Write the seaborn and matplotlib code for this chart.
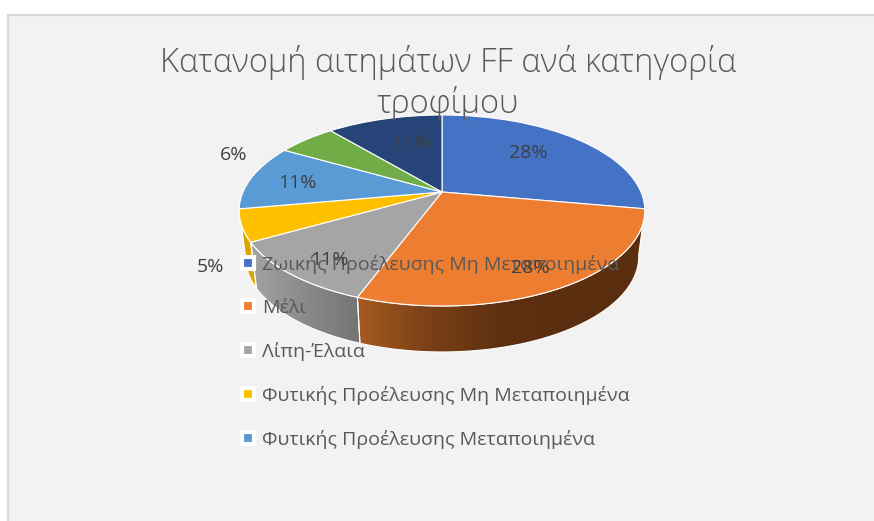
import numpy as np
import matplotlib
matplotlib.use('Agg')
import matplotlib.pyplot as plt
import seaborn as sns
from matplotlib.lines import Line2D
from matplotlib.patches import Polygon, Rectangle
from matplotlib.transforms import Transform

# chart values
values = [27.8, 27.8, 11.1, 5.4, 11.1, 5.6, 11.1]
legend_labels = ['Ζωικής Προέλευσης Μη Μεταποιημένα', 'Μέλι', 'Λίπη-Έλαια',
                 'Φυτικής Προέλευσης Μη Μεταποιημένα', 'Φυτικής Προέλευσης Μεταποιημένα']
title_text = 'Κατανομή αιτημάτων FF ανά κατηγορία\nτροφίμου'

# styling
slice_colors = ['#4472c4', '#ed7d31', '#a5a5a5', '#ffc000', '#5b9bd5', '#70ad47', '#264478']
side_colors = {1: ['#a65a20', '#7a4016', '#5e3011', '#5c2e10', '#5c2e10'],
               2: ['#a3a3a3', '#8a8a8a', '#747474'],
               3: ['#dba500', '#dba500']}
label_pos = [(528, 153), (530, 268), (329, 260), (210, 267), (297, 183), (234, 155), (411, 143)]

sns.set_theme(style='white')
plt.rcParams['font.family'] = ['Open Sans', 'DejaVu Sans']

W, H = 874, 521
CX, CY = 442, 192   # apex of the pie
SX, SY, K = 199, 91.9, 0.1937
DEPTH = 46
TEXT = '#595959'


def project(x, y, shrink=1.0, drop=0.0):
    w = 1 + K * y
    return CX + shrink * SX * x / w, CY - SY * y / w + drop


class Tilt(Transform):
    # tilted view of the unit circle, result is in pixels
    input_dims = 2
    output_dims = 2
    has_inverse = False

    def transform_non_affine(self, values):
        px, py = project(values[:, 0], values[:, 1])
        return np.column_stack([px, py])


fig = plt.figure(figsize=(W / 100, H / 100), dpi=100, facecolor='white')
ax = fig.add_axes([0, 0, 1, 1])

wedges, _ = ax.pie(values, colors=slice_colors, startangle=90, counterclock=False,
                   wedgeprops={'edgecolor': 'white', 'linewidth': 0.8})
ax.set_aspect('auto')
ax.set_axis_on()
ax.axis('off')

ax.add_patch(Rectangle((7.5, 14.5), W, H, facecolor='#f2f2f2', edgecolor='#d9d9d9',
                       linewidth=1.6, zorder=0))

tilt = Tilt() + ax.transData
for wedge in wedges:
    wedge.set_transform(tilt)
    wedge.set_zorder(3)

# side wall, only the slices facing the viewer
edges = np.cumsum([0] + values) / sum(values) * 2 * np.pi
for i, cols in side_colors.items():
    t = np.linspace(edges[i], edges[i + 1], 60)
    x, y = np.sin(t), np.cos(t)
    tx, ty = project(x, y)
    bx, by = project(x, y, shrink=0.97, drop=DEPTH)
    pts = np.column_stack([np.r_[tx, bx[::-1]], np.r_[ty, by[::-1]]])
    poly = Polygon(pts, closed=True, facecolor='none', edgecolor='white', linewidth=0.8, zorder=2)
    ax.add_patch(poly)
    cmap = sns.blend_palette(cols, as_cmap=True)
    left, right = pts[:, 0].min(), pts[:, 0].max()
    if i == 1:
        grad = np.linspace(0, 1, 256).reshape(1, -1)
    else:
        grad = np.linspace(0, 1, 256).reshape(1, -1)
    img = ax.imshow(grad, cmap=cmap, aspect='auto', zorder=1.5,
                    extent=(left, right, pts[:, 1].max(), pts[:, 1].min()))
    img.set_clip_path(poly)

for v, (lx, ly) in zip(values, label_pos):
    ax.text(lx, ly, f'{v:.0f}%', ha='center', va='center', fontsize=14, color='#404040', zorder=6)

ax.text(448, 83, title_text, ha='center', va='center', fontsize=23.5, color=TEXT,
        linespacing=1.25, fontweight='light', zorder=7)

handles = [Line2D([], [], linestyle='none', marker='s', markersize=9, markerfacecolor=c,
                  markeredgecolor='white', markeredgewidth=3) for c in slice_colors[:5]]
leg = ax.legend(handles, legend_labels, loc='upper left', bbox_to_anchor=(238, 255),
                bbox_transform=ax.transData, frameon=False, fontsize=14, labelcolor=TEXT,
                labelspacing=1.28, handlelength=1.0, handletextpad=0.25, borderpad=0,
                borderaxespad=0)
leg.set_zorder(5)

ax.set_xlim(0, W)
ax.set_ylim(H, 0)
fig.savefig('out.png', dpi=100)
